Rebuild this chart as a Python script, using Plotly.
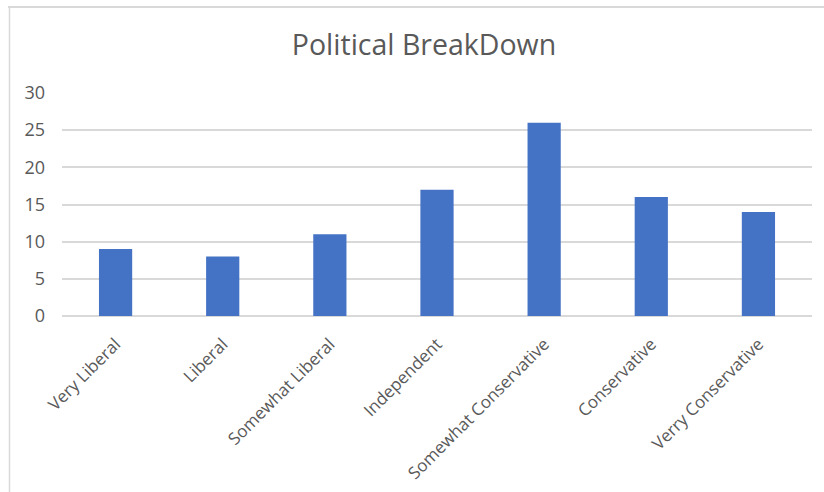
import plotly.graph_objects as go

categories = ["Very Liberal", "Liberal", "Somewhat Liberal", "Independent",
              "Somewhat Conservative", "Conservative", "Verry Conservative"]
counts = [9, 8, 11, 17, 26, 16, 14]
y_ticks = [0, 5, 10, 15, 20, 25, 30]

W, H = 824, 492
ML, MR, MT, MB = 62, 12, 93, 176
PW, PH = W - ML - MR, H - MT - MB

def px_x(px):
    return (px - ML) / PW

def px_y(py):
    return (H - MB - py) / PH

fig = go.Figure(go.Bar(
    x=categories, y=counts,
    marker=dict(color="#4472C4", line=dict(width=0)),
    width=0.31,
))

fig.update_layout(
    width=W, height=H,
    margin=dict(l=ML, r=MR, t=MT, b=MB, autoexpand=False),
    paper_bgcolor="white", plot_bgcolor="white",
    font=dict(family="Open Sans", color="#595959", size=18),
    title=dict(text="Political BreakDown", x=424 / W, xanchor="center",
               y=1 - 45 / H, yanchor="middle",
               font=dict(size=28.5, color="#595959", family="Open Sans")),
    showlegend=False,
    shapes=[
        dict(type="line", xref="paper", yref="paper",
             x0=px_x(8), x1=px_x(830), y0=px_y(7), y1=px_y(7),
             line=dict(color="#d9d9d9", width=2)),
        dict(type="line", xref="paper", yref="paper",
             x0=px_x(9.5), x1=px_x(9.5), y0=px_y(7), y1=px_y(500),
             line=dict(color="#d9d9d9", width=1.5)),
    ],
)
fig.update_xaxes(tickangle=-45, showgrid=False, showline=False, ticks="",
                 ticklabelstandoff=14, automargin=False,
                 tickfont=dict(size=17, color="#595959"))
fig.update_yaxes(range=[0, 30], tickvals=y_ticks, showgrid=True,
                 gridcolor="#d9d9d9", gridwidth=1.5, zeroline=True,
                 zerolinecolor="#d9d9d9", zerolinewidth=1.5,
                 ticks="", ticklabelstandoff=16, automargin=False,
                 tickfont=dict(size=18, color="#595959"))

fig.write_html("out.html")
